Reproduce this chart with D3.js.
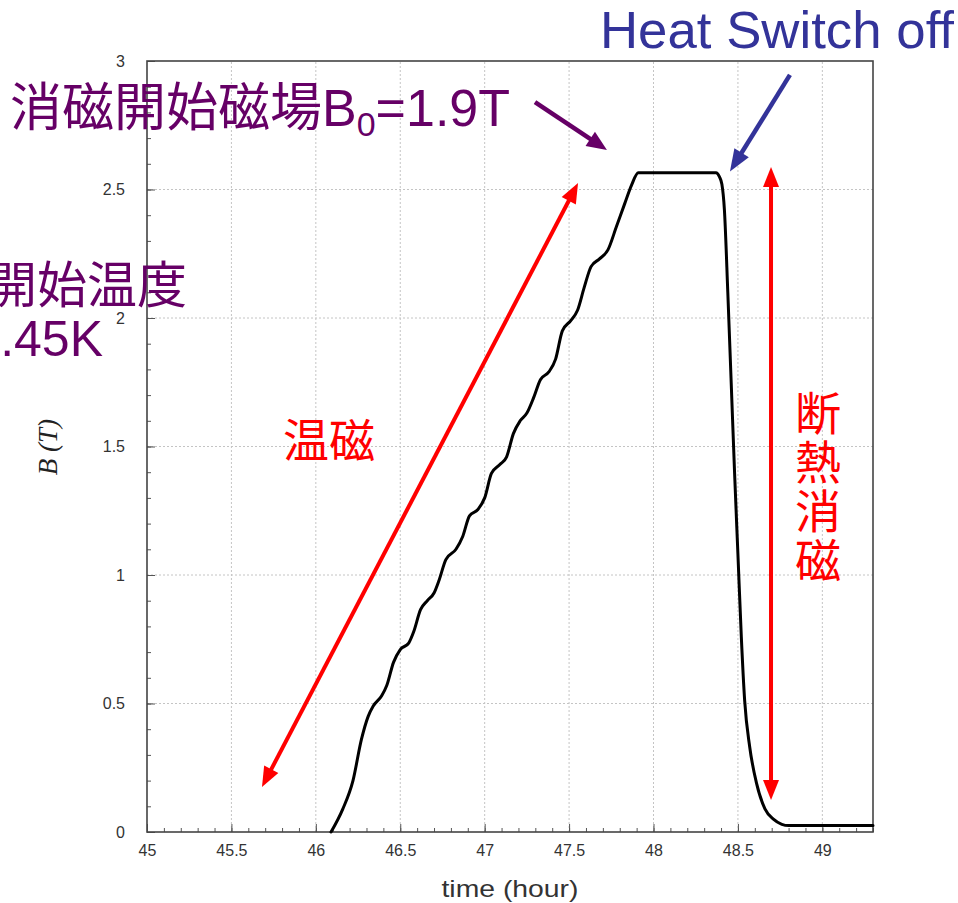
<!DOCTYPE html>
<html><head><meta charset="utf-8">
<script src="https://cdn.jsdelivr.net/npm/d3@7"></script>
<style>
body{margin:0;background:#fff;}
svg{display:block;}
</style></head><body>
<svg id="c" width="958" height="903"></svg>
<script>
// ---- data ----
const timeHours = [46.09,46.16,46.22,46.27,46.31,46.34,46.39,46.42,46.46,46.50,46.55,46.58,46.62,46.66,46.70,46.73,46.77,46.83,46.87,46.91,46.96,47.00,47.04,47.09,47.13,47.17,47.21,47.25,47.29,47.33,47.38,47.42,47.46,47.51,47.55,47.59,47.63,47.68,47.73,47.78,47.83,47.87,47.91,48.37,48.39,48.405,48.42,48.44,48.46,48.48,48.50,48.52,48.54,48.57,48.61,48.66,48.71,48.76,48.80,49.30];
const fieldTesla = [0,0.09,0.20,0.36,0.45,0.49,0.53,0.57,0.66,0.71,0.735,0.78,0.865,0.90,0.93,0.98,1.06,1.10,1.15,1.23,1.255,1.30,1.395,1.43,1.46,1.55,1.60,1.63,1.69,1.76,1.79,1.84,1.95,1.99,2.03,2.12,2.20,2.23,2.265,2.355,2.446,2.517,2.565,2.565,2.55,2.52,2.42,2.10,1.75,1.40,1.08,0.76,0.51,0.33,0.19,0.09,0.05,0.03,0.025,0.025];
const xTickValues = [45,45.5,46,46.5,47,47.5,48,48.5,49];
const xTickLabels = ["45","45.5","46","46.5","47","47.5","48","48.5","49"];
const yTickValues = [0,0.5,1,1.5,2,2.5,3];
const yTickLabels = ["0","0.5","1","1.5","2","2.5","3"];
const xDomain = [45, 49.3];
const yDomain = [0, 3];

const latin = '"Liberation Sans", Arial, "Noto Sans CJK JP", sans-serif';
const svg = d3.select("#c");
const x = d3.scaleLinear().domain(xDomain).range([147, 873]);
const y = d3.scaleLinear().domain(yDomain).range([832, 61]);

// grid
const grid = svg.append("g");
grid.selectAll("line.gx").data(xTickValues.slice(1)).enter().append("line")
  .attr("x1", d => x(d)).attr("x2", d => x(d)).attr("y1", y(0)).attr("y2", y(3))
  .attr("stroke", "#c4c4c4").attr("stroke-width", 1).attr("stroke-dasharray", "2,2");
grid.selectAll("line.gy").data(yTickValues.slice(1, -1)).enter().append("line")
  .attr("y1", d => y(d)).attr("y2", d => y(d)).attr("x1", x(45)).attr("x2", x(49.3))
  .attr("stroke", "#c4c4c4").attr("stroke-width", 1).attr("stroke-dasharray", "2,2");

// minor ticks
svg.append("g").attr("transform", `translate(0,${y(0)})`)
  .call(d3.axisBottom(x).ticks(43).tickSize(-4).tickFormat(""))
  .call(g => g.select(".domain").remove())
  .selectAll("line").attr("stroke", "#555");
svg.append("g").attr("transform", `translate(${x(45)},0)`)
  .call(d3.axisLeft(y).ticks(30).tickSize(-4).tickFormat(""))
  .call(g => g.select(".domain").remove())
  .selectAll("line").attr("stroke", "#555");

// major axes
const xAxis = svg.append("g").attr("transform", `translate(0,${y(0)})`)
  .call(d3.axisBottom(x).tickValues(xTickValues).tickSize(-8).tickPadding(13)
    .tickFormat((d, i) => xTickLabels[i]));
xAxis.select(".domain").remove();
xAxis.selectAll("line").attr("stroke", "#555");
xAxis.selectAll("text").attr("font-family", latin).attr("font-size", 16).attr("fill", "#333");

const yAxis = svg.append("g").attr("transform", `translate(${x(45)},0)`)
  .call(d3.axisLeft(y).tickValues(yTickValues).tickSize(-8).tickPadding(22)
    .tickFormat((d, i) => yTickLabels[i]));
yAxis.select(".domain").remove();
yAxis.selectAll("line").attr("stroke", "#555");
yAxis.selectAll("text").attr("font-family", latin).attr("font-size", 16).attr("fill", "#333");

// frame
svg.append("rect").attr("x", x(45)).attr("y", y(3))
  .attr("width", x(49.3) - x(45)).attr("height", y(0) - y(3))
  .attr("fill", "none").attr("stroke", "#444").attr("stroke-width", 1.6);

// curve
const pts = timeHours.map((t, i) => [t, fieldTesla[i]]);
svg.append("path").datum(pts)
  .attr("d", d3.line().x(d => x(d[0])).y(d => y(d[1])).curve(d3.curveMonotoneX))
  .attr("fill", "none").attr("stroke", "#000").attr("stroke-width", 3)
  .attr("stroke-linejoin", "round").attr("stroke-linecap", "round");

// axis titles
svg.append("text").attr("x", 510).attr("y", 897).attr("text-anchor", "middle")
  .attr("font-family", latin).attr("font-size", 24).attr("fill", "#333")
  .attr("textLength", 137).attr("lengthAdjust", "spacingAndGlyphs")
  .text("time (hour)");
svg.append("text").attr("transform", "translate(57,447) rotate(-90)").attr("text-anchor", "middle")
  .attr("font-family", '"Liberation Serif", "Times New Roman", serif').attr("font-style", "italic")
  .attr("font-size", 27).attr("fill", "#222")
  .text("B (T)");

// arrows
function arrow(p0, p1, color, w, hl, hw, both) {
  const g = svg.append("g");
  const a = [x(p0[0]), y(p0[1])], b = [x(p1[0]), y(p1[1])];
  const dx = b[0] - a[0], dy = b[1] - a[1], L = Math.hypot(dx, dy);
  const ux = dx / L, uy = dy / L;
  const s = both ? [a[0] + ux * hl * 0.8, a[1] + uy * hl * 0.8] : a;
  const e = [b[0] - ux * hl * 0.8, b[1] - uy * hl * 0.8];
  g.append("line").attr("x1", s[0]).attr("y1", s[1]).attr("x2", e[0]).attr("y2", e[1])
    .attr("stroke", color).attr("stroke-width", w);
  const head = (tip, dirx, diry) => {
    const bx = tip[0] - dirx * hl, by = tip[1] - diry * hl;
    const px = -diry * hw / 2, py = dirx * hw / 2;
    g.append("path").attr("d", `M${tip[0]},${tip[1]}L${bx + px},${by + py}L${bx - px},${by - py}Z`)
      .attr("fill", color);
  };
  head(b, ux, uy);
  if (both) head(a, -ux, -uy);
}
arrow([45.681, 0.175], [47.553, 2.525], "#ff0000", 4, 20, 16, true);
arrow([48.696, 0.125], [48.696, 2.588], "#ff0000", 4, 20, 16, true);
arrow([47.298, 2.840], [47.724, 2.654], "#660066", 4.5, 20, 17, false);
arrow([48.808, 2.946], [48.453, 2.570], "#333399", 4.5, 22, 17, false);

// annotation texts
svg.append("text").attr("x", 600).attr("y", 48)
  .attr("font-family", latin).attr("font-size", 52).attr("fill", "#333399")
  .attr("textLength", 354).attr("lengthAdjust", "spacingAndGlyphs")
  .text("Heat Switch off");

const t1 = svg.append("text").attr("x", 10).attr("y", 126)
  .attr("font-family", latin).attr("font-size", 52).attr("fill", "#660066");
t1.append("tspan").text("消磁開始磁場B");
t1.append("tspan").attr("font-size", 34).attr("dy", 10).text("0");
t1.append("tspan").attr("dy", -10).text("=1.9T");

svg.append("text").attr("x", 187).attr("y", 303).attr("text-anchor", "end")
  .attr("font-family", latin).attr("font-size", 50).attr("fill", "#660066")
  .text("消磁開始温度");
svg.append("text").attr("x", 103).attr("y", 356).attr("text-anchor", "end")
  .attr("font-family", latin).attr("font-size", 50).attr("fill", "#660066")
  .text("T=2.45K");

svg.append("text").attr("x", 283).attr("y", 457)
  .attr("font-family", latin).attr("font-size", 46).attr("fill", "#ff0000")
  .text("温磁");

const vchars = ["断", "熱", "消", "磁"];
svg.append("g").selectAll("text").data(vchars).enter().append("text")
  .attr("x", 818).attr("y", (d, i) => 430 + i * 49).attr("text-anchor", "middle")
  .attr("font-family", latin).attr("font-size", 46).attr("fill", "#ff0000")
  .text(d => d);
</script>
</body></html>
